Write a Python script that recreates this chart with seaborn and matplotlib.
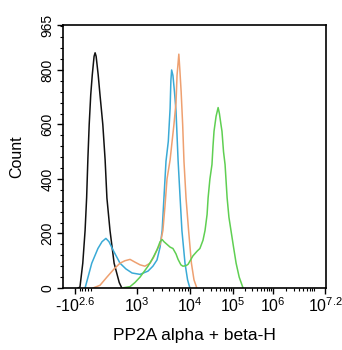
import numpy as np
import pandas as pd
import matplotlib
matplotlib.use("Agg")
import matplotlib.pyplot as plt
import seaborn as sns

# ---- data (x in instrument channel units 0-1024, y = event count) ----
black_x = [58, 66, 77, 86, 92, 97, 102, 108, 114, 121, 125, 129, 137, 144, 155, 164, 171, 183, 199, 219, 229]
black_y = [0, 3, 91, 211, 331, 477, 600, 709, 782, 850, 863, 850, 782, 709, 600, 470, 330, 211, 91, 20, 0]

blue_x = [86, 112, 136, 152, 167, 179, 195, 222, 245, 269, 300, 331, 350, 366, 378, 386, 393, 401, 410,
          417, 420, 423, 428, 434, 440, 448, 456, 463, 475, 485, 494]
blue_y = [0, 91, 145, 170, 182, 170, 139, 91, 70, 55, 50, 62, 80, 103, 150, 211, 330, 465, 538,
          659, 760, 800, 780, 720, 650, 470, 330, 211, 91, 30, 0]

orange_x = [117, 144, 171, 199, 222, 241, 261, 280, 300, 319, 339, 354, 366, 378, 389, 397, 405, 417,
            425, 432, 440, 444, 451, 455, 460, 466, 471, 479, 489, 500, 510, 521]
orange_y = [0, 10, 40, 70, 91, 100, 105, 95, 85, 80, 91, 115, 140, 160, 211, 300, 400, 470,
            540, 600, 680, 780, 858, 800, 720, 598, 465, 330, 211, 91, 30, 0]

green_x = [230, 261, 280, 300, 331, 350, 366, 378, 386, 393, 405, 417, 428, 440, 448, 459, 467, 479,
           487, 498, 506, 522, 533, 545, 553, 561, 565, 572, 580, 584, 588, 596, 604, 609, 615, 619,
           625, 631, 639, 646, 654, 664, 674, 686, 701]
green_y = [0, 5, 20, 40, 80, 110, 140, 170, 178, 170, 160, 150, 145, 125, 105, 85, 80, 82,
           87, 105, 118, 135, 145, 175, 211, 270, 331, 400, 453, 520, 575, 630, 662, 640, 600, 575,
           500, 453, 331, 260, 211, 150, 91, 40, 0]

series_names = ["isotype", "sample A", "sample B", "sample C"]
series_colors = ["#111111", "#3aaad6", "#eea070", "#5fcf52"]

x_tick_pos = [47, 288, 496, 662, 818, 1020]
x_tick_labels = [r"-$10^{2.6}$", r"$10^{3}$", r"$10^{4}$", r"$10^{5}$", r"$10^{6}$", r"$10^{7.2}$"]
y_ticks = [0, 200, 400, 600, 800, 965]

# ---- build long-form table ----
frames = []
for name, xs, ys in zip(series_names, [black_x, blue_x, orange_x, green_x],
                        [black_y, blue_y, orange_y, green_y]):
    frames.append(pd.DataFrame({"channel": xs, "count": ys, "series": name}))
df = pd.concat(frames, ignore_index=True)

sns.set_style("ticks")
plt.rcParams["font.family"] = ["Liberation Sans", "DejaVu Sans"]
plt.rcParams["mathtext.fontset"] = "custom"
plt.rcParams["mathtext.rm"] = "Liberation Sans"
plt.rcParams["mathtext.it"] = "Liberation Sans:italic"
plt.rcParams["mathtext.bf"] = "Liberation Sans:bold"
for key in ["text.color", "axes.labelcolor", "xtick.color", "ytick.color", "axes.edgecolor"]:
    plt.rcParams[key] = "black"

fig = plt.figure(figsize=(3.42, 3.50), dpi=100)
ax = fig.add_axes([63 / 342, 62 / 350, 263 / 342, 263 / 350])

sns.lineplot(data=df, x="channel", y="count", hue="series", hue_order=series_names,
             palette=dict(zip(series_names, series_colors)), sort=False,
             linewidth=1.1, legend=False, ax=ax, estimator=None)

ax.set_xlim(0, 1024)
ax.set_ylim(0, 965)

ax.set_xticks(x_tick_pos)
ax.set_xticklabels(x_tick_labels, fontsize=11.5)
# minor ticks: log positions within each decade
minor = [66, 74, 86, 97, 110]
decades = [(288, 496, 1.0), (496, 662, 1.0), (662, 818, 1.0), (818, 1020, 1.2)]
for a, b, span in decades:
    per = (b - a) / span
    for k in range(2, 10):
        p = a + per * np.log10(k)
        if p < b:
            minor.append(p)
ax.set_xticks(minor, minor=True)

ax.set_yticks(y_ticks)
ax.set_yticklabels([str(v) for v in y_ticks], rotation=90, va="center", fontsize=10)
ax.set_yticks(np.arange(0, 965, 40), minor=True)

ax.tick_params(axis="both", which="major", length=4, width=1, direction="out", color="black", pad=2)
ax.tick_params(axis="both", which="minor", length=2.5, width=0.8, direction="out", color="black")
for s in ax.spines.values():
    s.set_visible(True)
    s.set_linewidth(1.2)
    s.set_color("black")

ax.set_xlabel("PP2A alpha + beta-H", fontsize=12.5, labelpad=9)
ax.set_ylabel("Count", fontsize=11.5, labelpad=12)

fig.savefig("out.png", dpi=100)
